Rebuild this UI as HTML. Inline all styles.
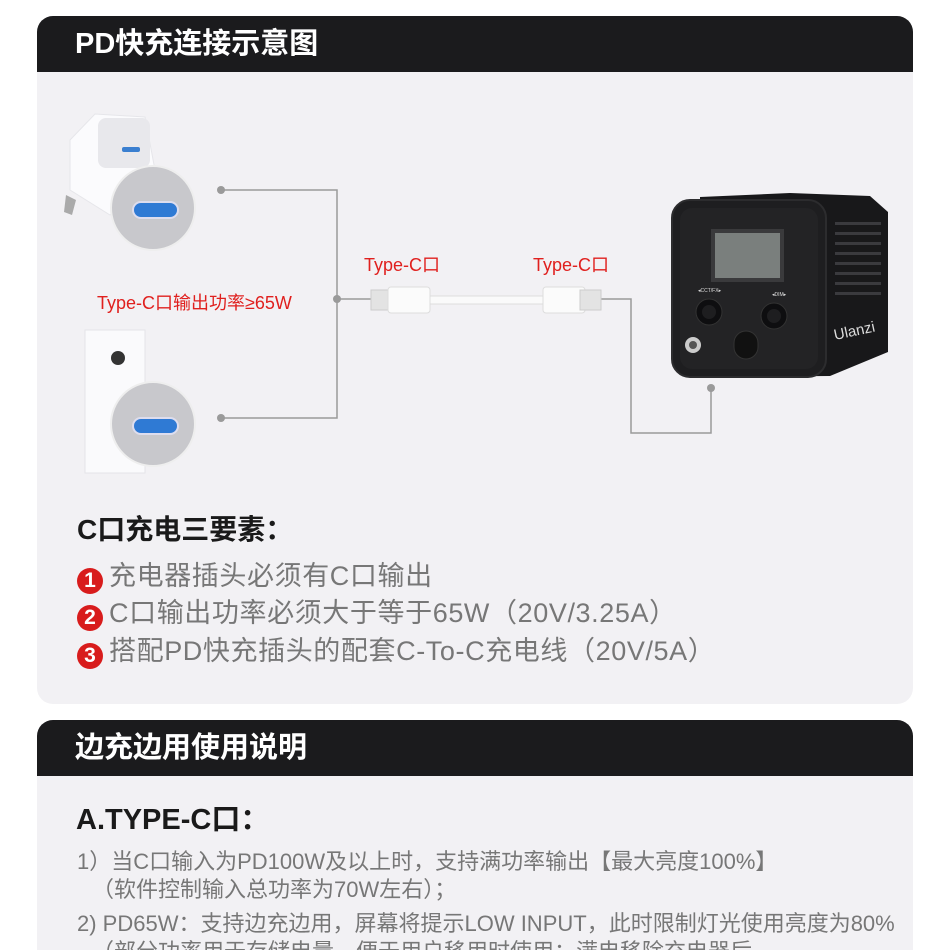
<!DOCTYPE html>
<html style="width:950px;height:950px;overflow:hidden"><head><meta charset="utf-8"><style>
*{margin:0;padding:0;box-sizing:border-box}
body{width:950px;height:950px;background:#fff;position:relative;overflow:hidden;font-family:"Liberation Sans","Noto Sans CJK SC",sans-serif}
.abs{position:absolute}
.card{position:absolute;left:37px;width:876px;background:#f2f1f4;border-radius:16px;overflow:hidden}
.hd{height:56px;background:#1b1b1d;color:#fff;font-size:29px;font-weight:bold;padding-left:38px;line-height:56px}
.red{color:#e0201e;font-size:18px;white-space:nowrap}
.li{position:absolute;left:77px;font-size:27px;letter-spacing:0.6px;color:#777;white-space:nowrap;line-height:30px}
.n{display:inline-block;width:26px;height:26px;border-radius:50%;background:#d81c1c;color:#fff;font-size:21px;font-weight:bold;text-align:center;line-height:26px;vertical-align:-2px;margin-right:6px;letter-spacing:0}
.t2{position:absolute;left:77px;font-size:22px;color:#777;white-space:nowrap}
</style></head><body>
<div class="card" style="top:16px;height:688px">
  <div class="hd">PD快充连接示意图</div>
</div>
<div class="card" style="top:720px;height:260px">
  <div class="hd">边充边用使用说明</div>
</div>

<svg class="abs" style="left:0;top:0" width="950" height="700">
  <g stroke="#9a9a9a" stroke-width="1.5" fill="none">
    <polyline points="221,190 337,190 337,418 221,418"/>
    <line x1="337" y1="299" x2="372" y2="299"/>
    <polyline points="600,299 631,299 631,433 711,433 711,388"/>
  </g>
  <g fill="#9a9a9a"><circle cx="221" cy="190" r="4"/><circle cx="221" cy="418" r="4"/><circle cx="337" cy="299" r="4"/><circle cx="711" cy="388" r="4"/></g>
  <rect x="430" y="296" width="115" height="8" fill="#fafafa" stroke="#ddd"/>
  <rect x="371" y="290" width="22" height="20" fill="#e3e3e3" stroke="#ccc"/>
  <rect x="388" y="287" width="42" height="26" rx="3" fill="#fbfbfb" stroke="#ddd"/>
  <rect x="543" y="287" width="42" height="26" rx="3" fill="#fbfbfb" stroke="#ddd"/>
  <rect x="580" y="290" width="21" height="20" fill="#e3e3e3" stroke="#ccc"/>
  <path d="M70,140 L95,114 L145,117 L155,170 L110,215 L70,190Z" fill="#fbfbfd" stroke="#e6e6ea"/>
  <rect x="98" y="118" width="52" height="50" rx="8" fill="#e8e8ec"/>
  <rect x="122" y="147" width="18" height="5" rx="2" fill="#3a7fd0"/>
  <path d="M66,195 l10,5 l-4,15 l-8,-3z" fill="#aaa"/>
  <circle cx="153" cy="208" r="42" fill="#c8c8cc" stroke="#eee" stroke-width="2"/>
  <rect x="133" y="202" width="45" height="16" rx="8" fill="#2f7ad4" stroke="#dde" stroke-width="2"/>
  <rect x="85" y="330" width="60" height="143" fill="#fafafc" stroke="#e4e4e8"/>
  <circle cx="118" cy="358" r="7" fill="#333"/>
  <circle cx="153" cy="424" r="42" fill="#c8c8cc" stroke="#eee" stroke-width="2"/>
  <rect x="133" y="418" width="45" height="16" rx="8" fill="#2f7ad4" stroke="#dde" stroke-width="2"/>
  <path d="M700,197 L790,193 L870,196 L888,212 L888,352 L830,376 L700,377 Z" fill="#18181a"/>
  <rect x="672" y="200" width="154" height="177" rx="18" fill="#1e1e20" stroke="#2c2c2e" stroke-width="2"/>
  <rect x="680" y="208" width="138" height="161" rx="12" fill="#232325"/>
  <rect x="711" y="229" width="73" height="53" fill="#3a3a3c"/>
  <rect x="715" y="233" width="65" height="45" fill="#7a7f7d"/>
  <g fill="#3a3a3e"><rect x="835" y="222" width="46" height="3"/><rect x="835" y="232" width="46" height="3"/><rect x="835" y="242" width="46" height="3"/><rect x="835" y="252" width="46" height="3"/><rect x="835" y="262" width="46" height="3"/><rect x="835" y="272" width="46" height="3"/><rect x="835" y="282" width="46" height="3"/><rect x="835" y="292" width="46" height="3"/></g>
  <circle cx="709" cy="312" r="13" fill="#0e0e10" stroke="#333"/><circle cx="709" cy="312" r="7" fill="#1e1e20"/>
  <circle cx="774" cy="316" r="13" fill="#0e0e10" stroke="#333"/><circle cx="774" cy="316" r="7" fill="#1e1e20"/>
  <circle cx="693" cy="345" r="8" fill="#ccc"/><circle cx="693" cy="345" r="4" fill="#555"/>
  <rect x="734" y="331" width="24" height="28" rx="12" fill="#111" stroke="#333"/>
  <text x="698" y="292" font-size="5" fill="#ddd">◂CCT/FX▸</text>
  <text x="772" y="296" font-size="5" fill="#ddd">◂DIM▸</text>
  <text x="835" y="340" font-size="15" fill="#ddd" transform="rotate(-12 835 340)">Ulanzi</text>
</svg>

<div class="abs red" style="left:364px;top:251px">Type-C口</div>
<div class="abs red" style="left:533px;top:251px">Type-C口</div>
<div class="abs red" style="left:97px;top:289px">Type-C口输出功率≥65W</div>

<div class="abs" style="left:77px;top:508px;font-size:28px;font-weight:bold;color:#1a1a1a">C口充电三要素：</div>
<div class="li" style="top:561px"><span class="n">1</span>充电器插头必须有C口输出</div>
<div class="li" style="top:598px"><span class="n">2</span>C口输出功率必须大于等于65W（20V/3.25A）</div>
<div class="li" style="top:636px"><span class="n">3</span>搭配PD快充插头的配套C-To-C充电线（20V/5A）</div>

<div class="abs" style="left:76px;top:796px;font-size:29px;font-weight:bold;color:#1a1a1a">A.TYPE-C口：</div>
<div class="t2" style="top:844px">1）当C口输入为PD100W及以上时，支持满功率输出【最大亮度100%】</div>
<div class="t2" style="top:872px;left:92px">（软件控制输入总功率为70W左右）；</div>
<div class="t2" style="top:906px">2) PD65W：支持边充边用，屏幕将提示LOW INPUT，此时限制灯光使用亮度为80%</div>
<div class="t2" style="top:934px;left:92px">（部分功率用于存储电量，便于用户移用时使用；满电移除充电器后</div>
</body></html>
